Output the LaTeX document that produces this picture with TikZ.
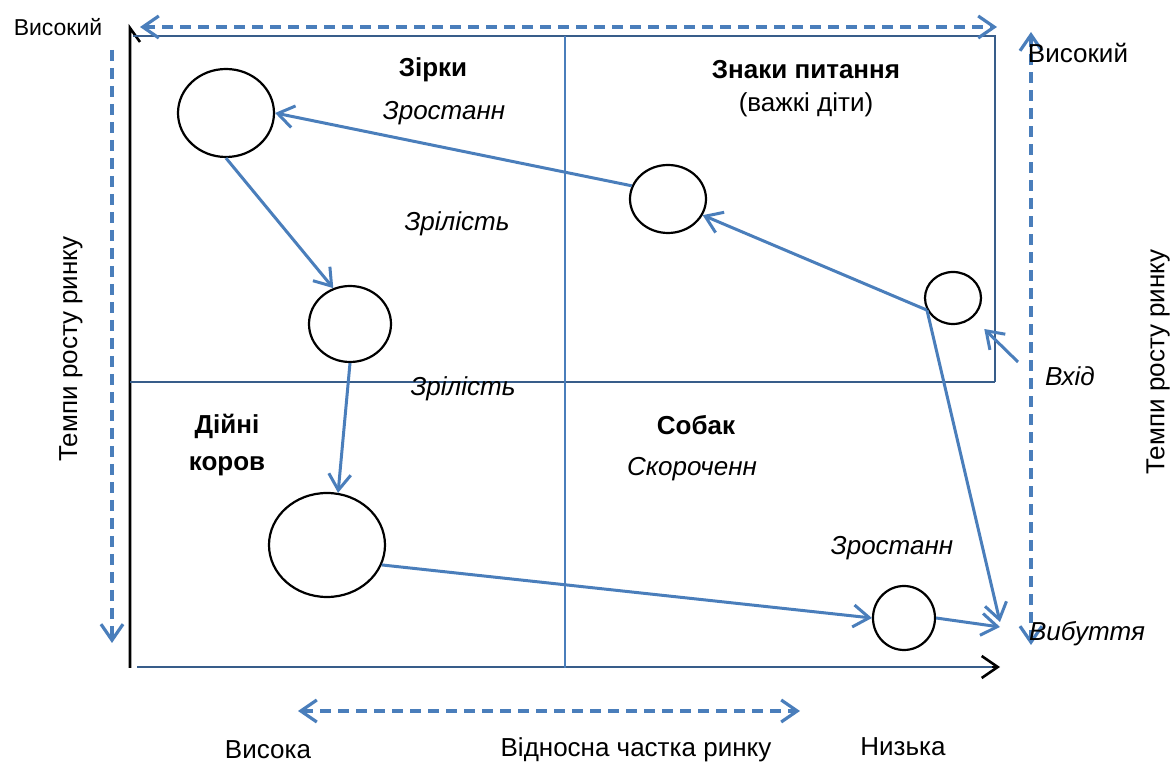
\documentclass[tikz,border=0pt]{standalone}
\usepackage{fontspec}
\setmainfont{Liberation Sans}
\usetikzlibrary{arrows.meta,shapes.geometric}
\definecolor{linkblue}{RGB}{74,126,187}
\definecolor{frameblue}{RGB}{56,93,138}

\begin{document}
\begin{tikzpicture}[x=0.5pt, y=-0.5pt, >={Straight Barb[length=8pt,width=11pt]},
  every node/.style={font=\fontsize{13}{15}\selectfont, inner sep=1pt},
  bubble/.style={ellipse, draw, line width=1.1pt, inner sep=0pt},
  flow/.style={linkblue, line width=1.5pt, ->},
  span/.style={linkblue, line width=1.6pt, dash pattern=on 5.5pt off 3.5pt},
  grid/.style={frameblue, line width=1.1pt},
  bold/.style={font=\fontsize{13}{15}\selectfont\bfseries},
  slant/.style={font=\fontsize{13}{15}\selectfont\itshape}]
  \useasboundingbox (0,0) rectangle (1174,763);

  % axes
  \coordinate (O) at (130,668);
  \coordinate (ytop) at (130,28);
  \coordinate (xstart) at (137,667);
  \coordinate (xend) at (1000,667);
  \draw[line width=1.3pt] (O) -- (ytop) -- ++(10,14);
  \draw[line width=1.3pt, ->] (xstart) -- (xend);
  \draw[frameblue, line width=1.3pt] (xstart) -- (992,667);

  % quadrants
  \draw[grid] (133,36) -- (995,36) -- (995,382);
  \draw[grid] (130,382) -- (995,382);
  \draw[linkblue, line width=1.1pt] (565,36) -- (565,668);

  % dashed scales
  \draw[span, <->] (140,27) -- (997,27);
  \draw[span, ->] (112,50) -- (112,643);
  \draw[span, <->] (1031,645) -- (1031,32);
  \draw[span, <->] (298,711) -- (800,711);

  % products
  \foreach \n/\x/\y/\rx/\ry in {1/226/113/48/44, 2/350/324/41/38, 3/327/545/58/52,
                                 4/668/199/38/34, 5/953/298/28/26, 6/904/618/31/32}
    \node[bubble, minimum width=\rx pt, minimum height=\ry pt] (c\n) at (\x,\y) {};

  \coordinate (j) at (c5.205);
  \coordinate (drop) at (1000,622);
  \coordinate (exit) at (1000,627);
  \coordinate (entry) at (1018,362);

  \draw[flow] (c4.160) -- (c1.east);
  \draw[flow] (c1.south) -- (c2.115);
  \draw[flow] (c2.south) -- (c3.78);
  \draw[flow] (c3.-20) -- (c6.west);
  \draw[flow] (c6.east) -- (exit);
  \draw[flow] (j) -- (c4.-25);
  \draw[flow] (j) -- (drop);
  \draw[flow, shorten >=8pt] (entry) -- (c5.-45);

  % labels
  \node[font=\fontsize{11.5}{14}\selectfont] (hiL) at (58,27) {Високий};
  \node (hiR) at (1078,53) {Високий};
  \node[bold] (star) at (433,70) {Зірки};
  \node[slant] (grow1) at (444,113) {Зростанн};
  \node[bold] (quest) at (806,70) {Знаки питання};
  \node (quest2) at (806,105) {(важкі діти)};
  \node[slant] (mat1) at (457,224) {Зрілість};
  \node[slant] (mat2) at (463,389) {Зрілість};
  \node[bold] (cow1) at (227,426) {Дійні};
  \node[bold] (cow2) at (227,466) {коров};
  \node[bold] (dog) at (696,425) {Собак};
  \node[slant] (cut) at (692,469) {Скороченн};
  \node[slant] (grow2) at (892,548) {Зростанн};
  \node[slant] (in) at (1070,376) {Вхід};
  \node[slant] (out) at (1087,634) {Вибуття};
  \node[rotate=90] (rateL) at (71,349) {Темпи росту ринку};
  \node[rotate=90] (rateR) at (1158,362) {Темпи росту ринку};
  \node (high) at (268,750) {Висока};
  \node (share) at (636,750) {Відносна частка ринку};
  \node (low) at (903,747) {Низька};
\end{tikzpicture}
\end{document}
